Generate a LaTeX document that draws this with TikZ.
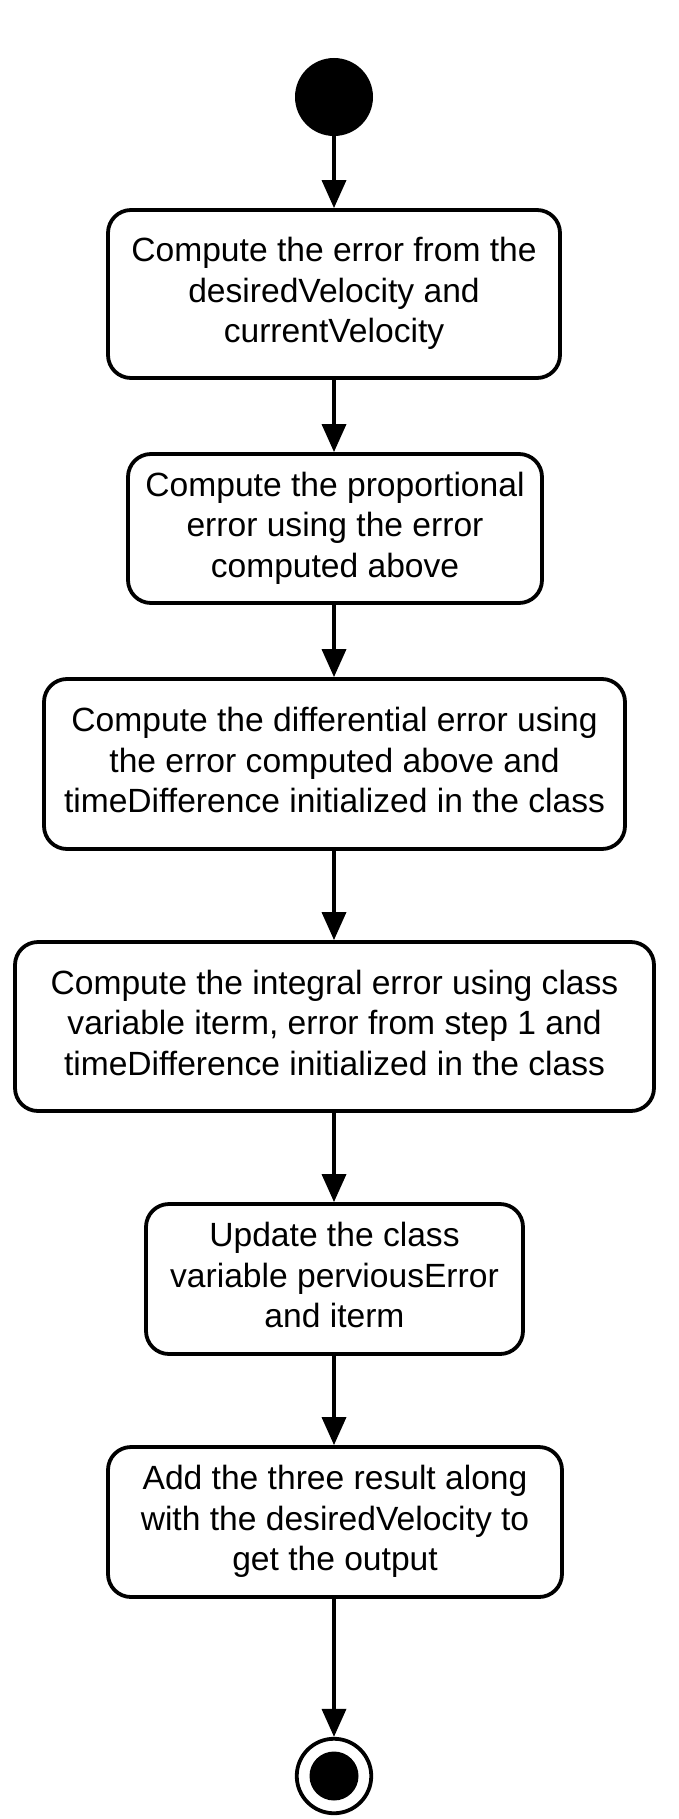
\documentclass[tikz,border=0pt]{standalone}
\usepackage{fontspec}
\setmainfont{Liberation Sans}
\usepackage{tikz}
\usetikzlibrary{
    arrows.meta,
    positioning
}

\begin{document}
\begin{tikzpicture}[
        x=1pt, y=-1pt,
        >={Triangle[length=28pt,width=24pt]},
        action/.style={
            rectangle,
            rounded corners=23pt,
            draw,
            line width=3.8pt,
            inner sep=0pt,
            align=center,
            text depth=8pt,
            font=\fontsize{33.6}{40.6}\selectfont
        },
        initial/.style={
            circle,
            fill,
            inner sep=0pt,
            minimum size=78pt
        },
        flow/.style={->, line width=3.6pt}
    ]
        \useasboundingbox (0,0) rectangle (678,1819);
        \node[initial] (start) at (334,97) {};
        \node[action, minimum width=452pt, minimum height=168pt] (err) at (334,294)
            {Compute the error from the\\desiredVelocity and\\currentVelocity};
        \node[action, minimum width=414pt, minimum height=149pt] (prop) at (335,528.5)
            {Compute the proportional\\error using the error\\computed above};
        \node[action, minimum width=581pt, minimum height=170pt] (diff) at (334.5,764)
            {Compute the differential error using\\the error computed above and\\timeDifference initialized in the class};
        \node[action, minimum width=639pt, minimum height=169pt] (integ) at (334.5,1026.5)
            {Compute the integral error using class\\variable iterm, error from step 1 and\\timeDifference initialized in the class};
        \node[action, minimum width=377pt, minimum height=150pt] (upd) at (334.5,1279)
            {Update the class\\variable perviousError\\and iterm};
        \node[action, minimum width=454pt, minimum height=150pt] (out) at (335,1522)
            {Add the three result along\\with the desiredVelocity to\\get the output};
        \node[circle, draw, line width=3.8pt, inner sep=0pt, minimum size=74.5pt] (stop) at (334,1776) {};
        \node[initial, minimum size=49pt] (stopdot) at (stop.center) {};
        \draw[flow] (start) -- (err);
        \draw[flow] (err) -- (err |- prop.north);
        \draw[flow] (prop.south -| err) -- (err |- diff.north);
        \draw[flow] (diff.south -| err) -- (err |- integ.north);
        \draw[flow] (integ.south -| err) -- (err |- upd.north);
        \draw[flow] (upd.south -| err) -- (err |- out.north);
        \draw[flow] (out.south -| err) -- (stop);
    \end{tikzpicture}
\end{document}
